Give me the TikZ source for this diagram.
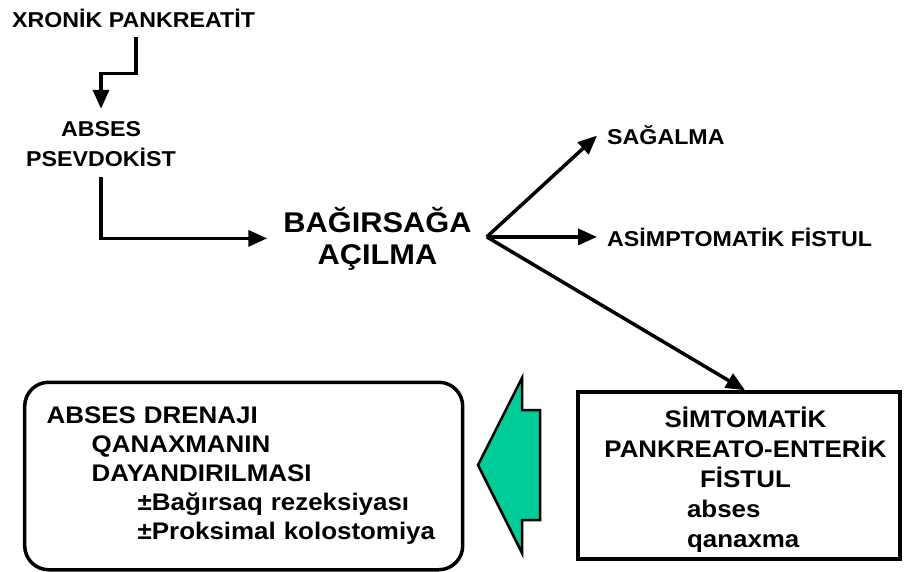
\documentclass[tikz,border=0pt]{standalone}
\usepackage{fontspec}
\setmainfont{Liberation Sans}[FakeStretch=1.08]
\usetikzlibrary{arrows.meta,positioning}
\definecolor{flow}{HTML}{00CC99}

\begin{document}
\begin{tikzpicture}[
    x=1pt,y=-1pt,
    lbl/.style={inner sep=0pt,align=center,font=\fontsize{21.5}{30}\selectfont\bfseries},
    big/.style={inner sep=0pt,align=center,font=\fontsize{28.5}{32}\selectfont\bfseries},
    box/.style={draw,line width=3.5pt,font=\fontsize{24}{30}\selectfont\bfseries},
    arrow/.style={-{Triangle[length=19pt,width=16pt]},line width=3.5pt}
  ]
    \useasboundingbox (0,0) rectangle (904,572);
    \node[lbl,anchor=base] (xr) at (133.5,28) {XRONİK PANKREATİT};
    \node[lbl,anchor=base] (ab) at (101,167) {ABSES\\PSEVDOKİST};
    \node[big,anchor=base] (bag) at (377.5,264) {BAĞIRSAĞA\\AÇILMA};
    \node[lbl,anchor=base west] (sag) at (607,145) {SAĞALMA};
    \node[lbl,anchor=base west] (asi) at (607,246) {ASİMPTOMATİK FİSTUL};
    \node[box,rounded corners=24pt,minimum width=438pt,minimum height=187.5pt,
          text width=412pt,inner xsep=13pt,align=left,
          font=\fontsize{24}{29}\selectfont\bfseries] (trt) at (243.7,476)
      {\hspace*{9pt}ABSES DRENAJI\\
       \hspace*{54pt}QANAXMANIN\\
       \hspace*{54pt}DAYANDIRILMASI\\
       \hspace*{100pt}±Bağırsaq rezeksiyası\\
       \hspace*{100pt}±Proksimal kolostomiya};
    \node[box,minimum width=322pt,minimum height=167pt,align=center] (sym) at (739,475.5)
      {\rule{0pt}{28pt}\hspace*{13pt}SİMTOMATİK\\
       \hspace*{13pt}PANKREATO-ENTERİK\\
       \hspace*{13pt}FİSTUL\\
       \hspace*{13pt}\makebox[117pt][l]{abses}\\
       \hspace*{13pt}\makebox[117pt][l]{qanaxma}};
    \path (bag.east |- asi.west) ++(15,0) coordinate (fan);
    \draw[arrow] ([shift={(2.5,9)}]xr.south) -- ++(0,36) -| ([shift={(0,-13)}]ab.north);
    \draw[arrow] ([shift={(0,10)}]ab.south) |- ([shift={(-16,0)}]bag.west);
    \draw[arrow] (fan) -- ([shift={(-10,0)}]sag.west);
    \draw[arrow] (fan) -- ([shift={(-10,0)}]asi.west);
    \draw[arrow] (fan) -- ([shift={(6,0)}]sym.north);
    % block arrow from the fistula box back to treatment
    \draw[line width=2.5pt,fill=flow] (540,410) -- (522,410) -- (522,378) -- (478,465)
      -- (522,553) -- (522,520) -- (540,520) -- cycle;
\end{tikzpicture}
\end{document}
